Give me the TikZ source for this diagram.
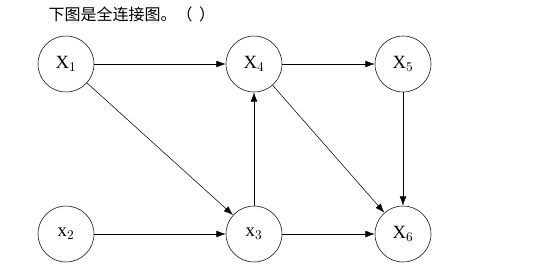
\documentclass[tikz,border=0pt]{standalone}
\usepackage{fontspec}
\setmainfont{Liberation Serif}
\newfontfamily\cjk{Noto Sans CJK SC}
\usetikzlibrary{arrows.meta}
\begin{document}
\begin{tikzpicture}[x=0.75pt,y=-0.75pt,
  vert/.style={draw,circle,minimum size=42pt,inner sep=0pt,font=\fontsize{14}{14}\selectfont},
  edge/.style={-{Latex[length=7pt,width=5pt]},thin}]
\useasboundingbox (0,0) rectangle (538,268);
\node[anchor=west,font=\cjk\fontsize{12}{12}\selectfont] (title) at (44,14) {下图是全连接图。（\hspace{0.4em}）};
\node[vert] (x1) at (66,64) {X$_1$};
\node[vert] (x4) at (254,64) {X$_4$};
\node[vert] (x5) at (403,64) {X$_5$};
\node[vert] (x2) at (66,234) {x$_2$};
\node[vert] (x3) at (254,234) {x$_3$};
\node[vert] (x6) at (403,234) {X$_6$};
\draw[edge] (x1) -- (x4);
\draw[edge] (x1) -- (x3);
\draw[edge] (x2) -- (x3);
\draw[edge] (x3) -- (x4);
\draw[edge] (x3) -- (x6);
\draw[edge] (x4) -- (x5);
\draw[edge] (x4) -- (x6);
\draw[edge] (x5) -- (x6);
\end{tikzpicture}
\end{document}
